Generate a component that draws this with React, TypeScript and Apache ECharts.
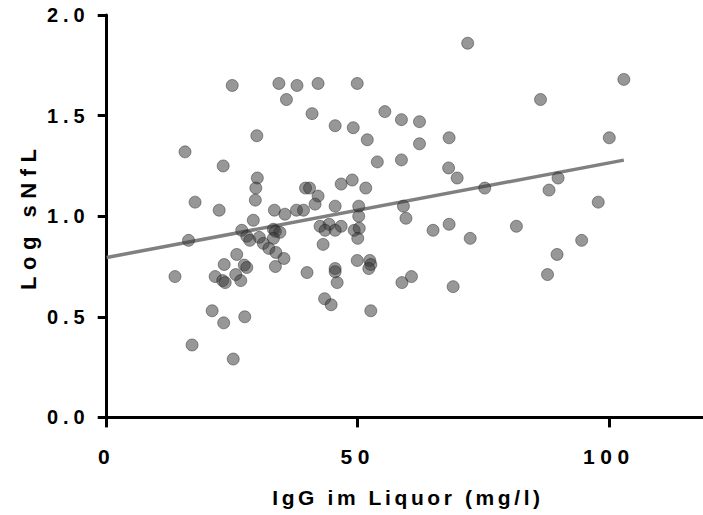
import React, { useEffect, useRef } from "react";
import * as echarts from "echarts";

// IgG im Liquor (mg/l)
const igg: number[] = [
  71.9, 103.0, 25.0, 34.3, 37.9, 42.1, 49.9, 35.8, 86.4, 40.9,
  55.4, 58.7, 62.3, 45.5, 49.1, 29.9, 51.9, 68.2, 100.1, 62.3,
  15.6, 53.9, 58.7, 23.2, 68.1, 69.8, 30.0, 89.9, 48.9, 46.7,
  29.7, 39.6, 40.4, 51.6, 75.3, 88.1, 42.1, 29.6, 17.6, 97.9,
  41.5, 45.5, 50.2, 59.1, 22.4, 33.4, 37.8, 39.2, 35.5, 50.2,
  59.6, 29.2, 68.2, 81.6, 44.3, 42.5, 46.7, 65.0, 26.9, 33.2,
  33.6, 34.5, 43.5, 45.5, 49.3, 50.3, 50.0, 72.4, 94.6, 16.3,
  27.9, 28.5, 30.4, 33.2, 31.2, 32.3, 33.7, 43.1, 35.3, 25.9,
  89.7, 49.9, 52.4, 52.6, 52.2, 23.4, 27.4, 27.9, 33.6, 45.5,
  45.5, 13.6, 21.6, 39.9, 60.7, 87.8, 25.7, 23.1, 23.6, 26.7,
  45.9, 58.8, 69.0, 43.4, 44.7, 52.6, 21.0, 27.5, 23.3, 17.0,
  25.2,
];

// Log sNfL
const logSnfl: number[] = [
  1.86, 1.68, 1.65, 1.66, 1.65, 1.66, 1.66, 1.58, 1.58, 1.51,
  1.52, 1.48, 1.47, 1.45, 1.44, 1.40, 1.38, 1.39, 1.39, 1.36,
  1.32, 1.27, 1.28, 1.25, 1.24, 1.19, 1.19, 1.19, 1.18, 1.16,
  1.14, 1.14, 1.14, 1.14, 1.14, 1.13, 1.10, 1.08, 1.07, 1.07,
  1.06, 1.05, 1.05, 1.05, 1.03, 1.03, 1.03, 1.03, 1.01, 1.00,
  0.99, 0.98, 0.96, 0.95, 0.96, 0.95, 0.95, 0.93, 0.93, 0.935,
  0.925, 0.92, 0.93, 0.93, 0.93, 0.94, 0.89, 0.89, 0.88, 0.88,
  0.90, 0.88, 0.895, 0.89, 0.865, 0.84, 0.82, 0.86, 0.79, 0.81,
  0.81, 0.78, 0.78, 0.76, 0.74, 0.76, 0.757, 0.745, 0.75, 0.74,
  0.724, 0.70, 0.70, 0.72, 0.70, 0.71, 0.71, 0.68, 0.67, 0.68,
  0.67, 0.67, 0.65, 0.59, 0.56, 0.53, 0.53, 0.50, 0.47, 0.36,
  0.29,
];

// regression line end points
const fitX: number[] = [0, 103];
const fitY: number[] = [0.795, 1.279];

const xTickLabels: number[] = [0, 50, 100];

const xName = "IgG im Liquor (mg/l)";
const yName = "Log sNfL";

const FONT = "'Liberation Sans', Arial, Helvetica, sans-serif";

export default function App() {
  const ref = useRef<HTMLDivElement>(null);

  useEffect(() => {
    if (!ref.current) return;
    const el = ref.current;
    const chart = echarts.init(el, undefined, { renderer: "svg" });

    const spacing = () => {
      el.querySelectorAll("text").forEach((t) => {
        const c = (t.textContent || "").trim();
        let s = "5px";
        if (c === yName) s = "6.5px";
        else if (c === xName) s = "3.6px";
        else if (xTickLabels.map(String).includes(c)) s = "5.5px";
        (t as SVGTextElement).style.letterSpacing = s;
      });
    };
    chart.on("finished", spacing);

    const points = igg.map((x, i) => [x, logSnfl[i]]);
    const fit = fitX.map((x, i) => [x, fitY[i]]);

    chart.setOption({
      animation: false,
      backgroundColor: "#ffffff",
      grid: {
        left: 106.7,
        top: 15.05,
        width: 602.5,
        height: 402.35,
        containLabel: false,
        outerBoundsMode: "none",
      },
      xAxis: {
        type: "value",
        min: 0,
        max: 120,
        interval: 50,
        name: xName,
        nameLocation: "middle",
        nameGap: 70,
        nameTextStyle: {
          color: "#000",
          fontSize: 21,
          fontWeight: "bold",
          fontFamily: FONT,
        },
        splitLine: { show: false },
        axisLine: { show: true, lineStyle: { color: "#000", width: 3 } },
        axisTick: {
          show: true,
          length: 10,
          lineStyle: { color: "#000", width: 3 },
        },
        axisLabel: {
          color: "#000",
          fontSize: 21,
          fontWeight: "bold",
          fontFamily: FONT,
          margin: 29,
          formatter: (v: number) =>
            xTickLabels.includes(v) ? String(v) : "",
        },
      },
      yAxis: {
        type: "value",
        min: 0,
        max: 2,
        interval: 0.5,
        name: yName,
        nameLocation: "middle",
        nameRotate: 90,
        nameGap: 67,
        nameTextStyle: {
          color: "#000",
          fontSize: 22,
          fontWeight: "bold",
          fontFamily: FONT,
        },
        splitLine: { show: false },
        axisLine: { show: true, lineStyle: { color: "#000", width: 3 } },
        axisTick: {
          show: true,
          length: 9,
          lineStyle: { color: "#000", width: 3 },
        },
        axisLabel: {
          color: "#000",
          fontSize: 20,
          fontWeight: "bold",
          fontFamily: FONT,
          margin: 17,
          formatter: (v: number) => v.toFixed(1),
        },
      },
      series: [
        {
          type: "line",
          data: fit,
          symbol: "none",
          silent: true,
          z: 1,
          lineStyle: { color: "#808080", width: 3.5 },
        },
        {
          type: "scatter",
          data: points,
          symbol: "circle",
          symbolSize: 12,
          z: 2,
          itemStyle: {
            color: "rgba(55,55,55,0.65)",
            borderColor: "rgba(30,30,30,0.55)",
            borderWidth: 1,
          },
        },
      ],
    });
    spacing();
    const raf = requestAnimationFrame(spacing);

    return () => {
      cancelAnimationFrame(raf);
      chart.dispose();
    };
  }, []);

  return (
    <div
      ref={ref}
      style={{ position: "fixed", left: 0, top: 0, width: 703, height: 515 }}
    />
  );
}
